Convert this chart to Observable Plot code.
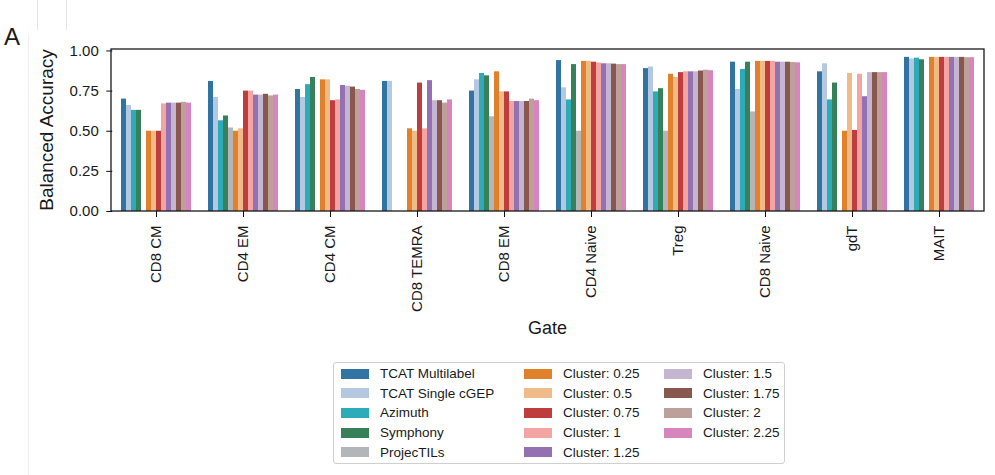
<!DOCTYPE html>
<html>
<head>
<meta charset="utf-8">
<script src="https://cdn.jsdelivr.net/npm/d3@7"></script>
<script src="https://cdn.jsdelivr.net/npm/@observablehq/plot@0.6"></script>
<style>
  html, body { margin: 0; padding: 0; background: #fff; }
  #wrap { position: relative; width: 995px; height: 475px; overflow: hidden;
          font-family: "Liberation Sans", Arial, sans-serif; color: #1a1a1a; }
  #chart { position: absolute; left: 0; top: 0; }
  #chart svg g[aria-label="y-axis tick label"],
  #chart svg g[aria-label="fx-axis tick label"] { font-size: 15px; }
  .panel-tag { position: absolute; left: 4px; top: 25px; font-size: 24px; line-height: 24px; }
  .rule-v { position: absolute; width: 1px; background: #e6e6e6; }
  #legend { position: absolute; left: 333px; top: 362px; width: 452px; height: 102px;
            box-sizing: border-box; border: 1px solid #cfcfcf; border-radius: 3px;
            padding: 1px 0 0 7px; display: grid; grid-auto-flow: column;
            grid-template-rows: repeat(5, 19.6px); grid-template-columns: 183px 140px auto; }
  .item { display: flex; align-items: center; font-size: 13.5px; white-space: nowrap; }
  .sw { width: 28px; height: 10px; margin-right: 11px; flex: none; }
</style>
</head>
<body>
<div id="wrap">
  <div class="rule-v" style="left:37px;top:0;height:30px"></div>
  <div class="rule-v" style="left:66px;top:0;height:30px"></div>
  <div class="rule-v" style="left:28px;top:34px;height:441px;background:#f0f0f0"></div>
  <div class="panel-tag">A</div>
  <div id="chart"></div>
  <div id="legend"></div>
</div>
<script>
// Gates (cell populations) along the x axis
const gates = ["CD8 CM", "CD4 EM", "CD4 CM", "CD8 TEMRA", "CD8 EM",
               "CD4 Naive", "Treg", "CD8 Naive", "gdT", "MAIT"];

// Annotation methods, in legend order
const methods = ["TCAT Multilabel", "TCAT Single cGEP", "Azimuth", "Symphony", "ProjecTILs",
                 "Cluster: 0.25", "Cluster: 0.5", "Cluster: 0.75", "Cluster: 1", "Cluster: 1.25",
                 "Cluster: 1.5", "Cluster: 1.75", "Cluster: 2", "Cluster: 2.25"];

const methodColors = ["#3274a1", "#b5c8e1", "#2eabb8", "#38805a", "#b4b5b8",
                      "#e1812c", "#eebb89", "#c03d3e", "#f2a5a3", "#9472b2",
                      "#c4b5d0", "#88584f", "#bea09a", "#d685bd"];

// Balanced accuracy per gate (null = method gives no call for that gate)
const tcatMultilabel = [0.70, 0.81, 0.76, 0.81, 0.75, 0.94, 0.89, 0.93, 0.87, 0.96];
const tcatSingleCgep = [0.66, 0.71, 0.71, 0.81, 0.82, 0.77, 0.90, 0.76, 0.92, 0.95];
const azimuth        = [0.63, 0.565, 0.79, null, 0.86, 0.695, 0.745, 0.885, 0.695, 0.955];
const symphony       = [0.63, 0.595, 0.835, null, 0.845, 0.915, 0.765, 0.93, 0.80, 0.945];
const projecTILs     = [null, 0.52, null, null, 0.59, 0.50, 0.50, 0.62, null, null];
const cluster025     = [0.50, 0.50, 0.82, 0.515, 0.87, 0.935, 0.855, 0.935, 0.50, 0.96];
const cluster05      = [0.50, 0.515, 0.82, 0.50, 0.745, 0.935, 0.835, 0.935, 0.86, 0.96];
const cluster075     = [0.50, 0.75, 0.69, 0.80, 0.745, 0.93, 0.865, 0.935, 0.505, 0.96];
const cluster1       = [0.67, 0.75, 0.695, 0.515, 0.685, 0.925, 0.87, 0.935, 0.855, 0.96];
const cluster125     = [0.675, 0.725, 0.785, 0.815, 0.685, 0.92, 0.87, 0.93, 0.715, 0.96];
const cluster15      = [0.675, 0.725, 0.78, 0.69, 0.685, 0.92, 0.87, 0.93, 0.865, 0.96];
const cluster175     = [0.675, 0.73, 0.775, 0.69, 0.685, 0.918, 0.875, 0.93, 0.865, 0.96];
const cluster2       = [0.68, 0.72, 0.76, 0.675, 0.70, 0.915, 0.88, 0.928, 0.865, 0.958];
const cluster225     = [0.675, 0.725, 0.755, 0.695, 0.69, 0.915, 0.877, 0.926, 0.865, 0.958];

const yTicks = [0, 0.25, 0.5, 0.75, 1.0];

const seriesValues = [tcatMultilabel, tcatSingleCgep, azimuth, symphony, projecTILs,
                      cluster025, cluster05, cluster075, cluster1, cluster125,
                      cluster15, cluster175, cluster2, cluster225];

const rows = methods.flatMap((method, i) =>
  gates.map((gate, j) => ({gate, method, value: seriesValues[i][j]}))
).filter(d => d.value != null);

const W = 995, H = 475;
const M = {left: 111, right: 11, top: 49, bottom: 264};
const font = "Liberation Sans, Arial, sans-serif";

// Band layout of the gate facets: 80% of each step holds bars
const padInner = 0.2, padOuter = 0.1;
const step = (W - M.left - M.right) / (gates.length - padInner + 2 * padOuter);
// The y axis sits on the first facet; shift it back to the edge of the axes box
const yAxisShift = -step * padOuter;

const chart = Plot.plot({
  width: W,
  height: H,
  marginLeft: M.left,
  marginRight: M.right,
  marginTop: M.top,
  marginBottom: M.bottom,
  style: {fontFamily: font, fontSize: "15px", color: "#1a1a1a", background: "transparent"},
  fx: {domain: gates, paddingInner: padInner, paddingOuter: padOuter, label: null},
  x: {domain: methods, padding: 0, axis: null},
  y: {domain: [0, 1.009], label: null},
  color: {domain: methods, range: methodColors},
  marks: [
    Plot.barY(rows, {fx: "gate", x: "method", y: "value", fill: "method", inset: 0}),
    Plot.axisFx({anchor: "bottom", tickRotate: -90, tickSize: 6, tickPadding: 8,
                 label: null, fontSize: 15, stroke: "#111"}),
    Plot.axisY({ticks: yTicks, tickFormat: ".2f", tickSize: 6, tickPadding: 8,
                label: null, fontSize: 15, stroke: "#111", dx: yAxisShift})
  ]
});
document.getElementById("chart").appendChild(chart);

// Axes box and axis titles
const svg = d3.select(chart);
const yScale = chart.scale("y");
const yTop = yScale.range[1], yBottom = yScale.range[0];
svg.append("rect")
  .attr("x", M.left).attr("y", yTop)
  .attr("width", W - M.left - M.right).attr("height", yBottom - yTop)
  .attr("fill", "none").attr("stroke", "#111").attr("stroke-width", 1.25);
svg.append("text")
  .attr("transform", `translate(53,${(yTop + yBottom) / 2}) rotate(-90)`)
  .attr("text-anchor", "middle")
  .attr("font-size", 19).attr("fill", "#1a1a1a")
  .text("Balanced Accuracy");
svg.append("text")
  .attr("x", M.left + (W - M.left - M.right) / 2).attr("y", 334)
  .attr("text-anchor", "middle")
  .attr("font-size", 18).attr("fill", "#1a1a1a")
  .text("Gate");

// Legend
const legend = d3.select("#legend");
methods.forEach((m, i) => {
  const item = legend.append("div").attr("class", "item");
  item.append("span").attr("class", "sw").style("background", methodColors[i]);
  item.append("span").text(m);
});
</script>
</body>
</html>
